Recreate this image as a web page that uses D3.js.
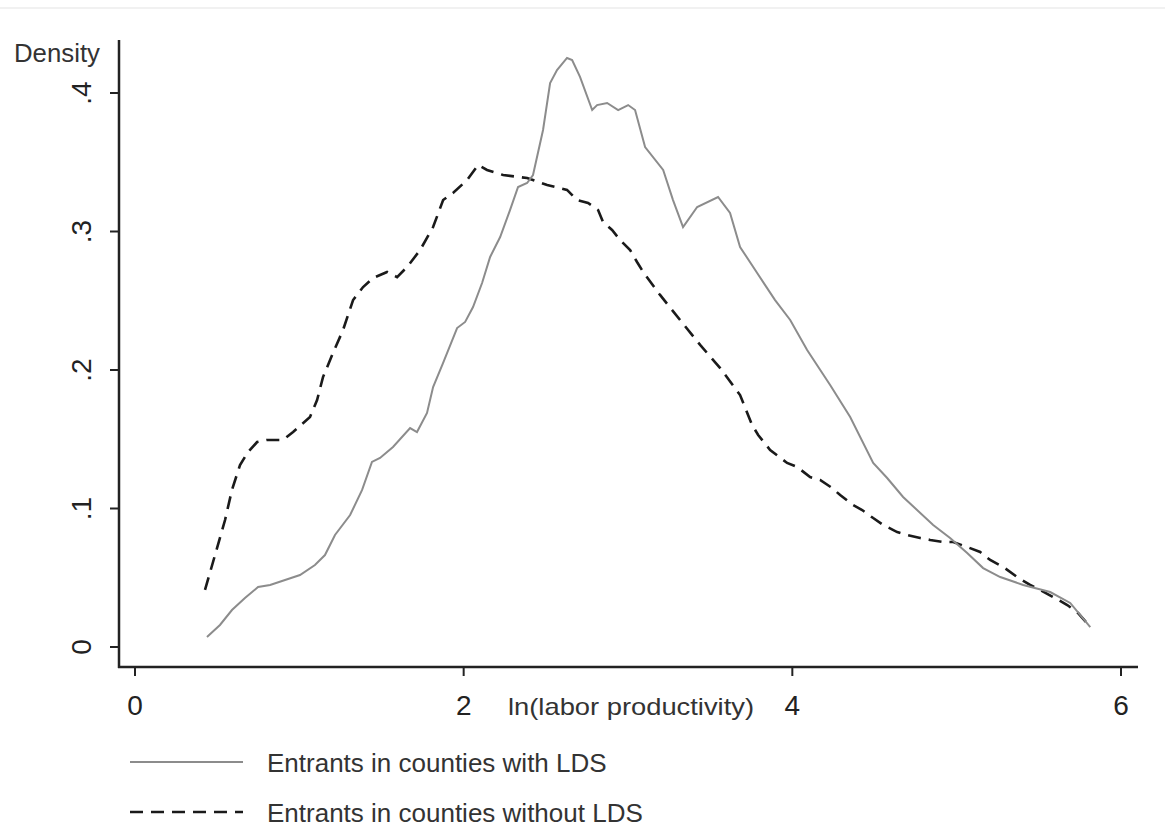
<!DOCTYPE html>
<html>
<head>
<meta charset="utf-8">
<script src="https://cdn.jsdelivr.net/npm/d3@7"></script>
<style>
  body { margin: 0; background: #fff; }
  svg { font-family: "Liberation Sans", Arial, sans-serif; }
  .axis line { stroke: #222; stroke-width: 2; }
  .axis text { fill: #222; font-size: 28px; }
</style>
</head>
<body>
<svg></svg>
<script>
// DATA
let xTicks = [0, 2, 4, 6];
let yTicks = [0, 0.1, 0.2, 0.3, 0.4];
let yTickLabels = ["0", ".1", ".2", ".3", ".4"];
let seriesNames = ["Entrants in counties with LDS", "Entrants in counties without LDS"];

// with LDS: [ln(labor productivity), density]
let withLDS = [
  [0.438,0.0072],[0.517,0.0159],[0.590,0.0267],[0.669,0.0354],[0.749,0.0433],[0.822,0.0448],
  [0.913,0.0484],[1.004,0.0520],[1.095,0.0592],[1.156,0.0664],[1.217,0.0809],[1.309,0.0953],
  [1.382,0.1134],[1.442,0.1336],[1.491,0.1365],[1.570,0.1444],[1.674,0.1581],[1.716,0.1552],
  [1.777,0.1690],[1.814,0.1877],[1.875,0.2051],[1.960,0.2303],[2.009,0.2347],[2.057,0.2455],
  [2.112,0.2628],[2.161,0.2816],[2.222,0.2960],[2.282,0.3155],[2.331,0.3321],[2.386,0.3350],
  [2.422,0.3408],[2.483,0.3733],[2.526,0.4072],[2.568,0.4166],[2.629,0.4253],[2.660,0.4238],
  [2.708,0.4116],[2.782,0.3877],[2.812,0.3913],[2.873,0.3928],[2.940,0.3877],[3.001,0.3913],
  [3.043,0.3877],[3.104,0.3610],[3.214,0.3444],[3.274,0.3227],[3.335,0.3032],[3.421,0.3177],
  [3.548,0.3249],[3.621,0.3134],[3.682,0.2888],[3.786,0.2700],[3.895,0.2505],[3.987,0.2361],
  [4.090,0.2144],[4.230,0.1892],[4.352,0.1661],[4.492,0.1329],[4.577,0.1220],[4.674,0.1083],
  [4.857,0.0881],[4.960,0.0787],[5.064,0.0679],[5.161,0.0570],[5.265,0.0505],[5.405,0.0448],
  [5.569,0.0397],[5.691,0.0318],[5.813,0.0144]
];

// without LDS
let withoutLDS = [
  [0.426,0.0412],[0.487,0.0664],[0.548,0.0917],[0.590,0.1134],[0.639,0.1314],[0.688,0.1408],
  [0.743,0.1480],[0.803,0.1495],[0.901,0.1495],[0.962,0.1552],[1.065,0.1661],[1.108,0.1783],
  [1.144,0.1949],[1.205,0.2123],[1.266,0.2289],[1.327,0.2505],[1.388,0.2599],[1.449,0.2664],
  [1.534,0.2708],[1.595,0.2671],[1.656,0.2744],[1.735,0.2866],[1.814,0.3032],[1.875,0.3227],
  [1.935,0.3278],[2.021,0.3372],[2.088,0.3480],[2.142,0.3444],[2.240,0.3408],[2.386,0.3386],
  [2.508,0.3336],[2.629,0.3300],[2.690,0.3227],[2.757,0.3206],[2.818,0.3155],[2.848,0.3069],
  [2.903,0.3011],[2.952,0.2939],[3.013,0.2866],[3.055,0.2780],[3.092,0.2708],[3.195,0.2542],
  [3.317,0.2361],[3.439,0.2181],[3.561,0.2014],[3.682,0.1819],[3.755,0.1603],[3.792,0.1531],
  [3.865,0.1422],[3.968,0.1329],[4.029,0.1300],[4.108,0.1227],[4.169,0.1206],[4.242,0.1148],
  [4.291,0.1097],[4.370,0.1025],[4.425,0.0989],[4.492,0.0931],[4.553,0.0881],[4.638,0.0830],
  [4.699,0.0809],[4.778,0.0787],[4.839,0.0773],[4.918,0.0758],[4.979,0.0758],[5.064,0.0722],
  [5.143,0.0686],[5.204,0.0628],[5.283,0.0578],[5.368,0.0505],[5.447,0.0448],[5.508,0.0412],
  [5.587,0.0361],[5.673,0.0303],[5.739,0.0245],[5.813,0.0144]
];

let width = 1165;
let height = 828;

let svg = d3.select("svg")
  .attr("width", width)
  .attr("height", height);

// faint frame line at top
svg.append("line")
  .attr("x1", 0).attr("x2", width)
  .attr("y1", 8).attr("y2", 8)
  .attr("stroke", "#ececec").attr("stroke-width", 1.5);

let x = d3.scaleLinear().domain([0, 6]).range([135, 1121]);
let y = d3.scaleLinear().domain([0, 0.4]).range([647, 93]);

// axes: plot region edges
let axisLeft = 119, axisBottom = 667;

svg.append("line")
  .attr("x1", axisLeft).attr("x2", axisLeft)
  .attr("y1", 40).attr("y2", axisBottom + 1)
  .attr("stroke", "#222").attr("stroke-width", 2.5);

svg.append("line")
  .attr("x1", axisLeft - 1).attr("x2", 1138)
  .attr("y1", axisBottom).attr("y2", axisBottom)
  .attr("stroke", "#222").attr("stroke-width", 2.5);

// x ticks
let xt = svg.append("g").attr("class", "axis");
xt.selectAll("line")
  .data(xTicks)
  .enter()
  .append("line")
  .attr("x1", d => x(d)).attr("x2", d => x(d))
  .attr("y1", axisBottom).attr("y2", axisBottom + 9);
xt.selectAll("text")
  .data(xTicks)
  .enter()
  .append("text")
  .attr("x", d => x(d))
  .attr("y", 715)
  .attr("text-anchor", "middle")
  .text(d => d);

// y ticks (labels rotated like Stata)
let yt = svg.append("g").attr("class", "axis");
yt.selectAll("line")
  .data(yTicks)
  .enter()
  .append("line")
  .attr("x1", axisLeft - 9).attr("x2", axisLeft)
  .attr("y1", d => y(d)).attr("y2", d => y(d));
yt.selectAll("text")
  .data(yTicks)
  .enter()
  .append("text")
  .attr("transform", d => `translate(91,${y(d)}) rotate(-90)`)
  .attr("text-anchor", "middle")
  .text((d, i) => yTickLabels[i]);

// axis titles
svg.append("text")
  .attr("x", 14).attr("y", 62)
  .attr("font-size", 25).attr("fill", "#333")
  .attr("textLength", 86).attr("lengthAdjust", "spacingAndGlyphs")
  .text("Density");

svg.append("text")
  .attr("x", 508).attr("y", 715)
  .attr("font-size", 24).attr("fill", "#333")
  .attr("textLength", 246).attr("lengthAdjust", "spacingAndGlyphs")
  .text("ln(labor productivity)");

// lines
let line = d3.line()
  .x(d => x(d[0]))
  .y(d => y(d[1]));

svg.append("path")
  .datum(withoutLDS)
  .attr("d", line)
  .attr("fill", "none")
  .attr("stroke", "#1a1a1a")
  .attr("stroke-width", 2.6)
  .attr("stroke-dasharray", "13,8");

svg.append("path")
  .datum(withLDS)
  .attr("d", line)
  .attr("fill", "none")
  .attr("stroke", "#8c8c8c")
  .attr("stroke-width", 2);

// legend
let legend = svg.append("g");
let legendY = [762, 812];

legend.append("line")
  .attr("x1", 130).attr("x2", 243)
  .attr("y1", legendY[0]).attr("y2", legendY[0])
  .attr("stroke", "#8c8c8c").attr("stroke-width", 2);

legend.append("line")
  .attr("x1", 130).attr("x2", 243)
  .attr("y1", legendY[1]).attr("y2", legendY[1])
  .attr("stroke", "#1a1a1a").attr("stroke-width", 2.6)
  .attr("stroke-dasharray", "13,8");

legend.selectAll("text")
  .data(seriesNames)
  .enter()
  .append("text")
  .attr("x", 267)
  .attr("y", (d, i) => legendY[i] + 10)
  .attr("font-size", 26)
  .attr("fill", "#333")
  .text(d => d);
</script>
</body>
</html>
